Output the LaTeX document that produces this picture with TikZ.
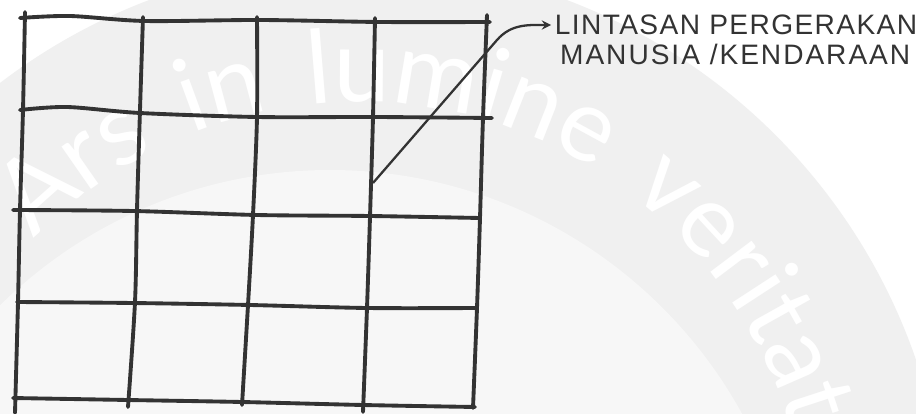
\documentclass[tikz,border=0pt]{standalone}
\usepackage{fontspec}
\setmainfont{Liberation Sans}
\newfontfamily\markfont[LetterSpace=14]{Lato}
\usetikzlibrary{positioning,decorations.text}

\begin{document}
\begin{tikzpicture}[x=0.02cm, y=0.02cm,
	gridline/.style={line width=2.2pt, black!80, line cap=round, line join=round},
	leader/.style={line width=1.3pt, black!80, ->, >=stealth},
	lbltext/.style={inner sep=2pt, text=black!80, font=\fontsize{16}{17}\selectfont}]
	\useasboundingbox (0,0) rectangle (916,413);
	\fill[white] (0,0) rectangle (916,413);
	% faint seal in the back
	\begin{scope}
		\clip (0,0) rectangle (916,413);
		\fill[black!6] (358,-139) circle[radius=590];
		\fill[black!3] (330,-227) circle[radius=470];
		\path[decorate, decoration={text along path, text align=center, text color=white,
			text={|\markfont\fontsize{58}{58}\selectfont|Ars in lumine veritatis}}]
			(358,-139) ++(146:450) arc[start angle=146, end angle=-3, radius=450];
	\end{scope}
	% rows
	\draw[gridline] plot[smooth] coordinates {(20,395) (70,397) (145,392) (260,393) (380,391) (490,391)};
	\draw[gridline] plot[smooth] coordinates {(20,303) (67,306) (140,300) (257,296) (375,296) (492,295)};
	\draw[gridline] plot[smooth] coordinates {(13,203) (133,202) (257,198) (370,197) (480,195)};
	\draw[gridline] plot[smooth] coordinates {(17,111) (133,110) (250,108) (367,105) (477,105)};
	\draw[gridline] plot[smooth] coordinates {(13,15) (128,13) (242,11) (363,8) (475,6)};
	% columns
	\draw[gridline] plot[smooth] coordinates {(25,401) (23,303) (20,203) (18,111) (15,0)};
	\draw[gridline] plot[smooth] coordinates {(143,396) (140,303) (137,203) (135,111) (128,6)};
	\draw[gridline] plot[smooth] coordinates {(257,396) (257,296) (253,198) (248,108) (242,8)};
	\draw[gridline] plot[smooth] coordinates {(375,395) (373,296) (370,196) (367,105) (363,1)};
	\draw[gridline] plot[smooth] coordinates {(487,398) (483,295) (480,195) (477,105) (473,5)};
	% label
	\node[lbltext, anchor=west] (lbl1) at (551,388) {\addfontfeature{LetterSpace=5}LINTASAN PERGERAKAN};
	\node[lbltext, below right=1pt and 3pt of lbl1.south west] (lbl2) {\addfontfeature{LetterSpace=7}MANUSIA /KENDARAAN};
	\coordinate (src) at (373,230);
	\coordinate (bend) at (497,373);
	\draw[leader] (src) -- (bend) to[out=49, in=180] (lbl1.west);
\end{tikzpicture}
\end{document}
